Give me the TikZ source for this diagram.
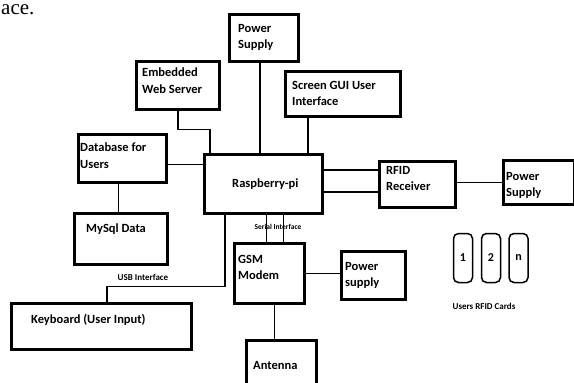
\documentclass[tikz,border=0pt]{standalone}
\usepackage{fontspec}
\setmainfont{Carlito}
\newfontfamily\bodyserif{Liberation Serif}
\usepackage{tikz}
\usetikzlibrary{positioning,calc}
\tikzset{
  blk/.style={draw,line width=2.6pt,inner sep=0pt,anchor=north west},
  lbl/.style={anchor=north west,inner sep=0pt,align=left,font=\fontsize{12.5}{16.5}\selectfont\bfseries},
  link/.style={line width=1.4pt},
  tiny/.style={inner sep=0pt,font=\bfseries},
  card/.style={draw,line width=1.5pt,rounded corners=5pt,minimum width=19pt,minimum height=49pt,inner sep=0pt,font=\fontsize{12}{14}\selectfont\bfseries}
}
\begin{document}
\begin{tikzpicture}[x=1pt,y=-1pt]
  \useasboundingbox (0,0) rectangle (574,383);
  %\draw[gray!30] (0,0) grid[step=20] (574,383);
  \node[anchor=base west,inner sep=0pt,font=\bodyserif\fontsize{21}{24}\selectfont] (frag) at (1,14) {ace.};
  % boxes
  \node[blk,minimum width=69pt,minimum height=47pt] (pwrtop) at (228,13) {};
  \node[lbl] (pwrtopt) at ([shift={(10pt,-11pt)}]pwrtop.north west) {Power\\Supply};
  \node[blk,minimum width=83pt,minimum height=48pt] (web) at (135,60) {};
  \node[lbl] (webt) at ([shift={(7pt,-8pt)}]web.north west) {Embedded\\Web Server};
  \node[blk,minimum width=88pt,minimum height=48pt] (db) at (77,133) {};
  \node[lbl] (dbt) at ([shift={(3pt,-10pt)}]db.north west) {Database for\\Users};
  \node[blk,minimum width=115pt,minimum height=45pt] (gui) at (284,70) {};
  \node[lbl] (guit) at ([shift={(8pt,-11pt)}]gui.north west) {Screen GUI User\\Interface};
  \node[blk,minimum width=118pt,minimum height=59pt] (rpi) at (203,153) {};
  \node[lbl,anchor=center] (rpit) at ([xshift=2pt]rpi.center) {Raspberry-pi};
  \node[blk,minimum width=76pt,minimum height=46pt] (rfid) at (378,160) {};
  \node[lbl] (rfidt) at ([shift={(8pt,-6pt)}]rfid.north west) {RFID\\Receiver};
  \node[blk,minimum width=71pt,minimum height=44pt] (psr) at (502,159) {};
  \node[lbl] (psrt) at ([shift={(4pt,-13pt)}]psr.north west) {Power\\Supply};
  \node[blk,minimum width=93pt,minimum height=51pt] (mysql) at (73,212) {};
  \node[lbl] (mysqlt) at ([shift={(13pt,-12pt)}]mysql.north west) {MySql Data};
  \node[blk,minimum width=180pt,minimum height=46pt] (kbd) at (10,302) {};
  \node[lbl] (kbdt) at ([shift={(21pt,-12pt)}]kbd.north west) {Keyboard (User Input)};
  \node[blk,minimum width=70pt,minimum height=60pt] (gsm) at (233,242) {};
  \node[lbl] (gsmt) at ([shift={(5pt,-13pt)}]gsm.north west) {GSM\\Modem};
  \node[blk,minimum width=64pt,minimum height=48pt] (psl) at (340,250) {};
  \node[lbl] (pslt) at ([shift={(5pt,-12pt)}]psl.north west) {Power\\supply};
  \node[blk,minimum width=70pt,minimum height=62pt] (ant) at (245,339) {};
  \node[lbl] (antt) at ([shift={(8pt,-22pt)}]ant.north west) {Antenna};
  % cards
  \node[card] (card1) at (463,258) {1};
  \node[card] (card2) at (491,258) {2};
  \node[card] (cardn) at (518.5,258) {n};
  \node[tiny,font=\fontsize{9}{10}\selectfont\bfseries] (cardst) at (484,306) {Users RFID Cards};
  % links
  \draw[link] ([xshift=-4pt]pwrtop.south) -- ([xshift=-4pt]pwrtop.south |- rpi.north);
  \draw[link] (web.south) -- ++(0,19) -| ([xshift=7pt]rpi.north west);
  \draw[link] ([xshift=24pt]gui.south west) -- ([xshift=24pt]gui.south west |- rpi.north);
  \draw[link] ([yshift=-6pt]db.east) -- ([yshift=-6pt]db.east -| rpi.west);
  \draw[link] ([xshift=-4pt]db.south) -- ([xshift=-4pt]db.south |- mysql.north);
  \draw[link] ([yshift=14pt]rpi.east) -- ([yshift=14pt]rpi.east -| rfid.west);
  \draw[link] ([yshift=-8pt]rpi.east) -- ([yshift=-8pt]rpi.east -| rfid.west);
  \draw[link] ([yshift=2pt]rfid.east) -- ([yshift=2pt]rfid.east -| psr.west);
  \draw[link] ([xshift=3pt]rpi.south) -- ([xshift=3pt]rpi.south |- gsm.north);
  \draw[link] ([xshift=20pt]rpi.south) -- ([xshift=20pt]rpi.south |- gsm.north);
  \node[tiny,font=\fontsize{7.5}{9}\selectfont\bfseries] (serial) at (278,227) {Serial Interface};
  \draw[link] ([xshift=22pt]rpi.south west) -- ++(0,72) -| ([xshift=97pt]kbd.north west);
  \node[tiny,font=\fontsize{9}{10}\selectfont\bfseries] (usb) at (143,277) {USB Interface};
  \draw[link] (gsm.east) -- (gsm.east -| psl.west);
  \draw[link] ([xshift=5pt]gsm.south) -- ([xshift=5pt]gsm.south |- ant.north);
\end{tikzpicture}
\end{document}
